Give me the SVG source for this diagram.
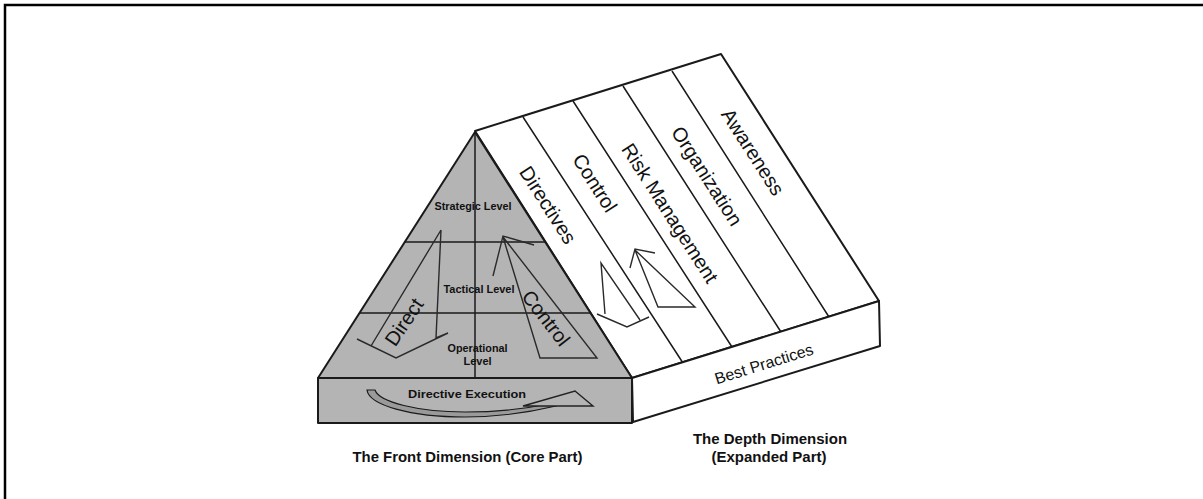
<svg xmlns="http://www.w3.org/2000/svg" width="1203" height="499" viewBox="0 0 1203 499">
<style>
.edge{fill:none;stroke:#1a1a1a;stroke-width:2;stroke-linejoin:round}
.grid{fill:none;stroke:#1a1a1a;stroke-width:1.5}
.gray{fill:#b4b4b4;stroke:#1a1a1a;stroke-width:2;stroke-linejoin:round}
.white{fill:#ffffff;stroke:#1a1a1a;stroke-width:2;stroke-linejoin:round}
.arr{fill:none;stroke:#2a2a2a;stroke-width:1.4;stroke-linejoin:miter}
.lvl{font-family:"Liberation Sans",Arial,sans-serif;font-weight:bold;font-size:11px;fill:#111;text-anchor:middle}
.big{font-family:"Liberation Sans",Arial,sans-serif;font-size:20px;fill:#111;text-anchor:middle}
.cap{font-family:"Liberation Sans",Arial,sans-serif;font-weight:bold;font-size:15px;fill:#111;text-anchor:middle}
</style>
<rect x="0" y="0" width="1203" height="499" fill="#ffffff"/>
<path id="frame" d="M5,499 V5 H1203" fill="none" stroke="#000" stroke-width="2.5"/>

<g id="roof">
  <polygon class="white" points="475,131 721,54 879,301 632,378"/>
  <path class="grid" d="M523,117 L683,363 M573,101 L732,347 M623,86 L781,332 M672,71 L829,317"/>
  <text class="big" transform="translate(548,205) rotate(57.4)" dy="7">Directives</text>
  <text class="big" transform="translate(595,183) rotate(57.4)" dy="7">Control</text>
  <text class="big" transform="translate(670,213) rotate(57.4)" dy="7">Risk Management</text>
  <text class="big" transform="translate(707,176) rotate(57.4)" dy="7">Organization</text>
  <text class="big" transform="translate(753,152) rotate(57.4)" dy="7">Awareness</text>
</g>

<g id="depth-box">
  <polygon class="white" points="632,378 879,301 880,346 633,422"/>
  <text transform="translate(764,364) rotate(-17.3)" dy="5.5" font-family="Liberation Sans, Arial, sans-serif" font-size="16" fill="#111" text-anchor="middle">Best Practices</text>
</g>

<g id="pyramid">
  <polygon class="gray" points="475,132 318,378 632,378"/>
  <path class="grid" d="M475,132 V378 M405,242 H545 M360,313 H590"/>
  <text class="lvl" x="473" y="210" textLength="77" lengthAdjust="spacingAndGlyphs">Strategic Level</text>
  <text class="lvl" x="479" y="292.5" textLength="71" lengthAdjust="spacingAndGlyphs">Tactical Level</text>
  <text class="lvl" x="477.5" y="351.5" textLength="60" lengthAdjust="spacingAndGlyphs">Operational</text>
  <text class="lvl" x="477.5" y="365">Level</text>
</g>

<g id="front-box">
  <rect class="gray" x="318" y="378" width="314" height="45"/>
  <text class="lvl" x="467" y="397.5" font-size="12.5" textLength="118" lengthAdjust="spacingAndGlyphs">Directive Execution</text>
</g>

<g id="connectors">
  <path class="arr" d="M441,230 L436,338 L448,333 L396,358 L357,339 M371,346 L441,230"/>
  <text class="big" transform="translate(404,322) rotate(-56)" dy="7">Direct</text>
  <path class="arr" d="M493,276 L503,236 L534,245 M503,237 L540,358 L597,358 Z"/>
  <text class="big" font-size="21" transform="translate(546,318) rotate(52)" dy="7">Control</text>
  <path class="arr" d="M640,320 L601,263 L605,314 M597,314 L627,327 L649,317"/>
  <path class="arr" d="M630,268 L635,249 L655,253 M635,250 L658,307 L695,307 Z"/>
  <path d="M367,390 C369,405 410,417 465,417 C505,417 535,411 556,406 L553,403 C530,408 500,412 465,412 C418,412 379,402 375,390 Z" fill="#9a9a9a" stroke="#1a1a1a" stroke-width="1.2"/>
  <polygon points="523,406 575,391 593,406" fill="#b4b4b4" stroke="#222" stroke-width="1.4" stroke-linejoin="miter"/>
</g>

<g id="captions">
  <text class="cap" x="467.5" y="461.5" textLength="230" lengthAdjust="spacingAndGlyphs">The Front Dimension (Core Part)</text>
  <text class="cap" x="770" y="443.5">The Depth Dimension</text>
  <text class="cap" x="769" y="461.5">(Expanded Part)</text>
</g>
</svg>
